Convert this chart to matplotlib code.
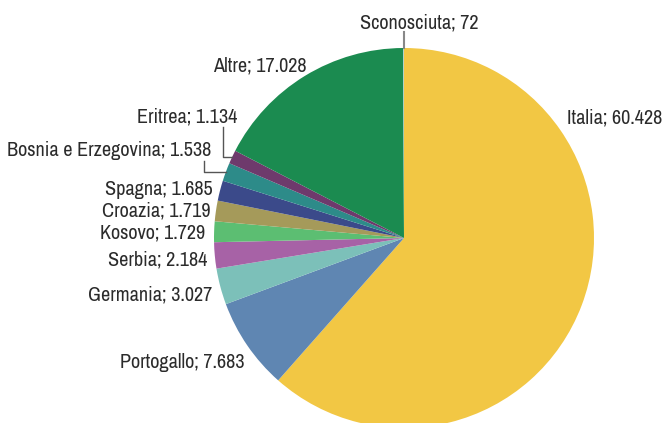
import numpy as np
import matplotlib.pyplot as plt

# dati
paesi = ['Italia', 'Portogallo', 'Germania', 'Serbia', 'Kosovo', 'Croazia',
         'Spagna', 'Bosnia e Erzegovina', 'Eritrea', 'Altre', 'Sconosciuta']
valori = [60428, 7683, 3027, 2184, 1729, 1719, 1685, 1538, 1134, 17028, 72]
etichette = ['60.428', '7.683', '3.027', '2.184', '1.729', '1.719', '1.685',
             '1.538', '1.134', '17.028', '72']
colori = ['#F2C744', '#5F86B2', '#7CC0B9', '#A762A6', '#5CBE72', '#A59A5A',
          '#3B4A8A', '#2D8B89', '#6E3A6C', '#1B8B50', '#A8CFC8']

plt.rcParams['font.family'] = ['Archivo Narrow', 'Barlow Semi Condensed', 'DejaVu Sans']

W, H = 667, 423
fig = plt.figure(figsize=(W / 100, H / 100), dpi=100)
ax = fig.add_axes([0, 0, 1, 1])

cx, cy, r = 404, H - 238, 190
wedges, _ = ax.pie(valori, colors=colori, startangle=90, counterclock=False,
                   center=(cx, cy), radius=r, frame=True,
                   wedgeprops=dict(linewidth=0))
ax.set_xlim(0, W)
ax.set_ylim(0, H)
ax.set_aspect('equal')
ax.axis('off')

# posizioni etichette (pixel dell'immagine: x, y, allineamento)
pos = {
    'Italia': (567, 118, 'left'),
    'Portogallo': (245, 362, 'right'),
    'Germania': (212, 295, 'right'),
    'Serbia': (207, 260, 'right'),
    'Kosovo': (205, 233, 'right'),
    'Croazia': (210, 211, 'right'),
    'Spagna': (213, 189, 'right'),
    'Bosnia e Erzegovina': (211, 150, 'right'),
    'Eritrea': (237, 117, 'right'),
    'Altre': (307, 66, 'right'),
    'Sconosciuta': (419, 23, 'center'),
}
tc = '#2b2b2b'
fs = 14.6
for p, e in zip(paesi, etichette):
    x, y, ha = pos[p]
    ax.text(x, H - y, f'{p}; {e}', ha=ha, va='center', fontsize=fs, color=tc)


def bordo(w):
    a = np.deg2rad((w.theta1 + w.theta2) / 2)
    return cx + r * np.cos(a), cy + r * np.sin(a)


# linee guida
bx, by = bordo(wedges[7])
ax.plot([204, 204, bx], [H - 161, by, by], color='#555555', lw=1)
ex, ey = bordo(wedges[8])
ax.plot([223, 223, ex], [H - 127, ey, ey], color='#555555', lw=1)
sx, sy = bordo(wedges[10])
ax.plot([sx, sx], [sy, H - 32], color='#888888', lw=1.5)

fig.savefig('out.png', dpi=100)
